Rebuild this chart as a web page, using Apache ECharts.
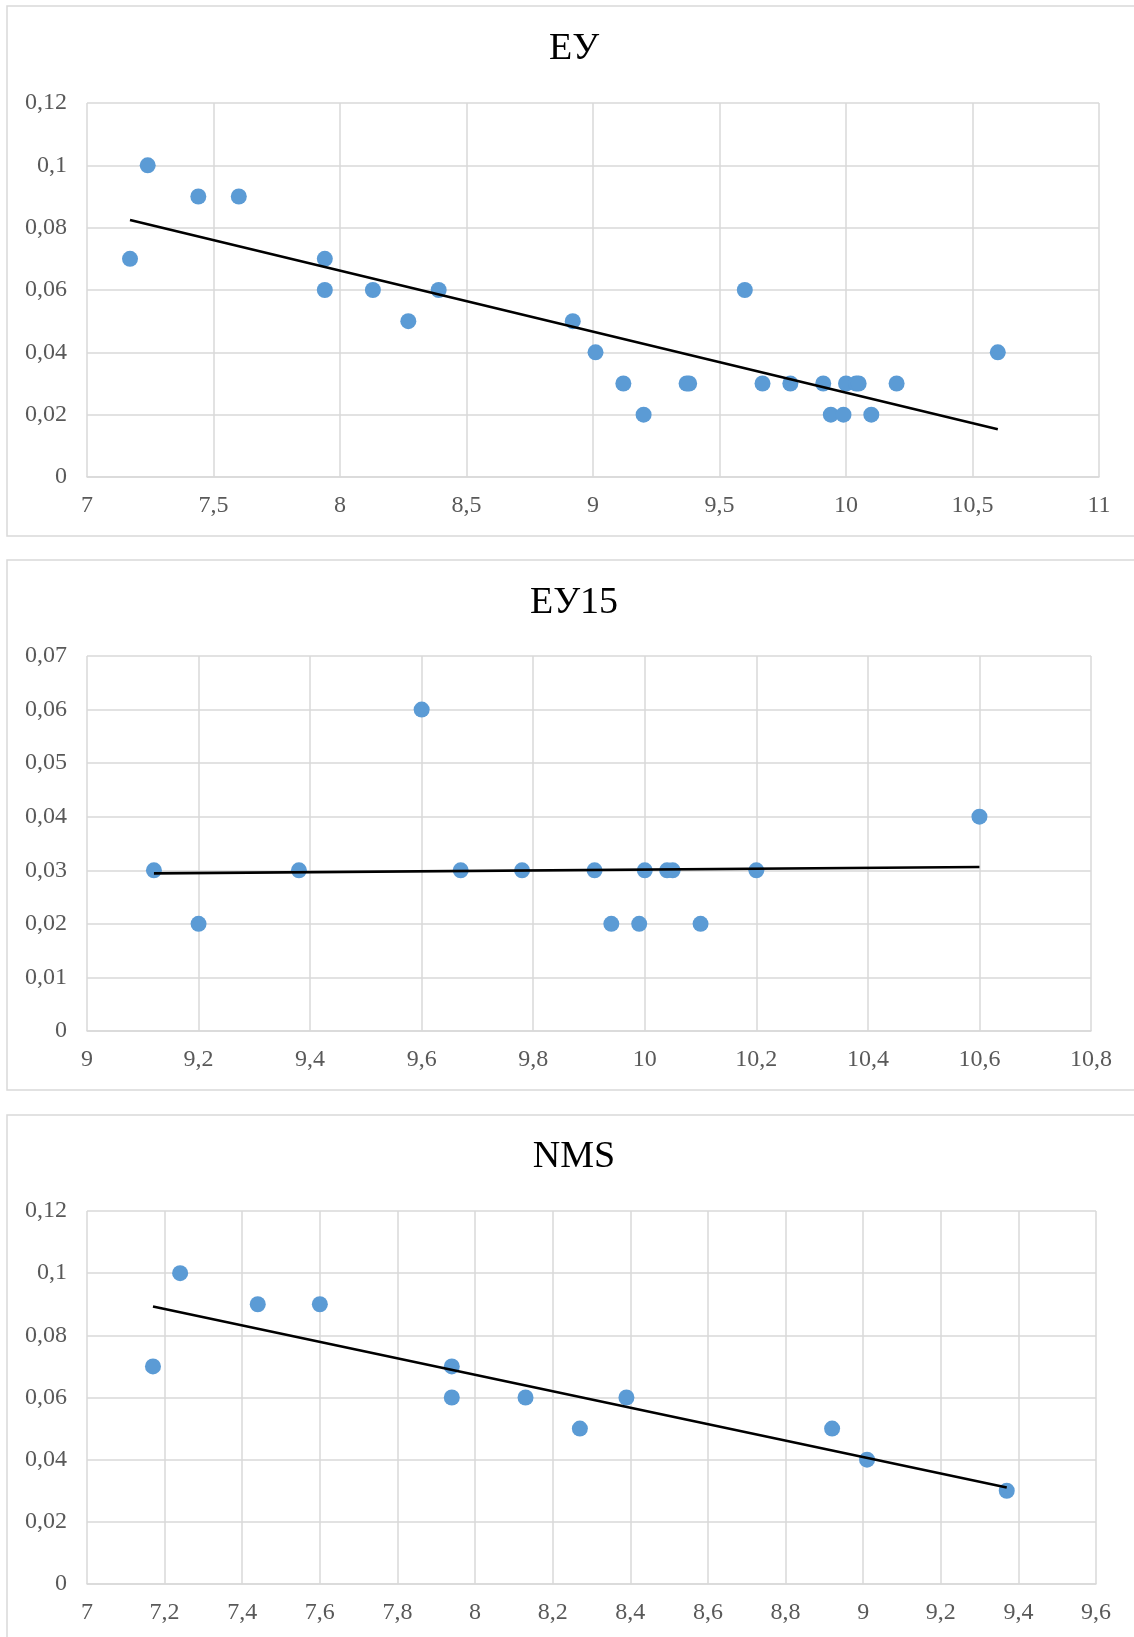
<!DOCTYPE html>
<html>
<head>
<meta charset="utf-8">
<script src="https://cdn.jsdelivr.net/npm/echarts@6/dist/echarts.min.js"></script>
<style>
html,body{margin:0;padding:0;background:#fff;width:1134px;height:1637px;overflow:hidden;}
#c{width:1134px;height:1637px;overflow:hidden;}
</style>
</head>
<body>
<div id="c"></div>
<script>
// Panel 1: ЕУ
const euX = [7.17,7.24,7.44,7.60,7.94,7.94,8.13,8.27,8.39,8.92,9.01,9.12,9.20,9.37,9.38,9.60,9.67,9.78,9.91,9.94,9.99,10.00,10.04,10.05,10.10,10.20,10.60];
const euY = [0.07,0.10,0.09,0.09,0.07,0.06,0.06,0.05,0.06,0.05,0.04,0.03,0.02,0.03,0.03,0.06,0.03,0.03,0.03,0.02,0.02,0.03,0.03,0.03,0.02,0.03,0.04];
// Panel 2: ЕУ15
const eu15X = [9.12,9.20,9.38,9.60,9.67,9.78,9.91,9.94,9.99,10.00,10.04,10.05,10.10,10.20,10.60];
const eu15Y = [0.03,0.02,0.03,0.06,0.03,0.03,0.03,0.02,0.02,0.03,0.03,0.03,0.02,0.03,0.04];
// Panel 3: NMS
const nmsX = [7.17,7.24,7.44,7.60,7.94,7.94,8.13,8.27,8.39,8.92,9.01,9.37];
const nmsY = [0.07,0.10,0.09,0.09,0.07,0.06,0.06,0.05,0.06,0.05,0.04,0.03];

const titles = ['ЕУ','ЕУ15','NMS'];
const xMin = [7, 9, 7], xMax = [11, 10.8, 9.6], xInt = [0.5, 0.2, 0.2];
const yMax = [0.12, 0.07, 0.12], yInt = [0.02, 0.01, 0.02];

const datasets = [[euX,euY],[eu15X,eu15Y],[nmsX,nmsY]];

// linear least-squares trendline drawn over the data's x range
function fit(xs, ys){
  const n = xs.length;
  let sx=0, sy=0, sxx=0, sxy=0;
  for(let i=0;i<n;i++){sx+=xs[i];sy+=ys[i];sxx+=xs[i]*xs[i];sxy+=xs[i]*ys[i];}
  const b=(n*sxy-sx*sy)/(n*sxx-sx*sx);
  const a=(sy-b*sx)/n;
  const x0=Math.min(...xs), x1=Math.max(...xs);
  return [[x0,a+b*x0],[x1,a+b*x1]];
}

const grids = [
  {left:87, width:1012, top:103, height:374},
  {left:87, width:1004, top:656, height:375},
  {left:87, width:1009, top:1211, height:373}
];
const panelTop = [6, 560, 1115];
const panelH = [530, 530, 530];
const titleY = [49, 603, 1157];

const fmt = v => {
  let s = (Math.round(v*1000)/1000).toString();
  return s.replace('.', ',');
};

const labelFont = {fontFamily:'"Liberation Serif","Times New Roman",serif', fontSize:24, color:'#595959'};
const gridLine = {lineStyle:{color:'#d9d9d9', width:1.5}};

const option = {
  animation:false,
  backgroundColor:'#fff',
  graphic: panelTop.map((t,i)=>({
    type:'rect', shape:{x:7, y:t, width:1130, height:panelH[i]},
    style:{fill:'none', stroke:'#d9d9d9', lineWidth:1.5}, z:-10
  })).concat(titles.map((t,i)=>({
    type:'text', x:574, y:titleY[i],
    style:{text:t, font:'38px "Liberation Serif","Times New Roman",serif', fill:'#000', textAlign:'center', textVerticalAlign:'middle'}
  }))),
  grid: grids,
  xAxis: grids.map((g,i)=>({
    type:'value', gridIndex:i, min:xMin[i], max:xMax[i], interval:xInt[i],
    axisLine:{show:true, lineStyle:{color:'#d9d9d9', width:1.5}},
    axisTick:{show:false},
    splitLine:{show:true, ...gridLine},
    axisLabel:{...labelFont, margin:17, formatter:fmt}
  })),
  yAxis: grids.map((g,i)=>({
    type:'value', gridIndex:i, min:0, max:yMax[i], interval:yInt[i],
    axisLine:{show:false},
    axisTick:{show:false},
    splitLine:{show:true, ...gridLine},
    axisLabel:{...labelFont, margin:20, formatter:fmt}
  })),
  series: []
};

datasets.forEach((d,i)=>{
  option.series.push({
    type:'scatter', xAxisIndex:i, yAxisIndex:i,
    data: d[0].map((x,j)=>[x, d[1][j]]),
    symbolSize:16,
    itemStyle:{color:'#5b9bd5', opacity:1},
    z:2
  });
  option.series.push({
    type:'line', xAxisIndex:i, yAxisIndex:i,
    data: fit(d[0], d[1]),
    symbol:'none',
    lineStyle:{color:'#000', width:2.6},
    z:3
  });
});

const chart = echarts.init(document.getElementById('c'));
chart.setOption(option);
</script>
</body>
</html>
